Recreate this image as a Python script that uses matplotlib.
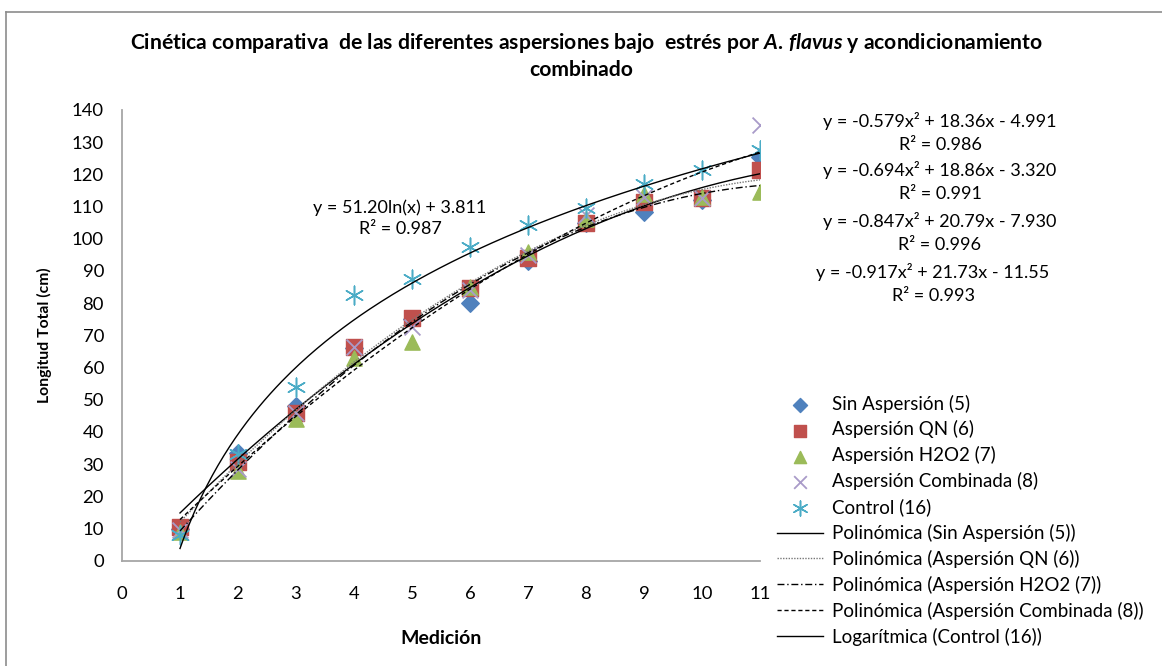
import numpy as np
import matplotlib.pyplot as plt
from matplotlib.lines import Line2D

plt.rcParams['font.family'] = ['Lato', 'DejaVu Sans']
plt.rcParams['mathtext.fontset'] = 'custom'
plt.rcParams['mathtext.it'] = 'Lato:italic:bold'
plt.rcParams['mathtext.rm'] = 'Lato:bold'

# mediciones (eje x) y longitud total por tratamiento
medicion = [1, 2, 3, 4, 5, 6, 7, 8, 9, 10, 11]
sin_asp = [10, 33.5, 48, 66, 75, 80, 93, 105, 108.4, 112, 125.5]
asp_qn = [10.6, 30.7, 46, 66.5, 75.5, 84.8, 94, 105, 111.5, 112.7, 121.4]
asp_h2o2 = [9, 28, 44, 63, 68, 85, 96, 106, 114, 113, 114.6]
asp_comb = [9.5, 28.5, 46, 66.5, 72.7, 84, 95, 107.5, 113, 112.7, 135.4]
control = [8, 33, 54, 82.5, 87.5, 97.5, 104.3, 109.6, 117, 121.4, 127.6]

# coeficientes de las lineas de tendencia (a, b, c) -> a*x^2 + b*x + c
poly_sin = [-0.694, 18.86, -3.320]
poly_qn = [-0.847, 20.79, -7.930]
poly_h2o2 = [-0.917, 21.73, -11.55]
poly_comb = [-0.579, 18.36, -4.991]
log_control = [51.20, 3.811]

r2_comb, r2_sin, r2_qn, r2_h2o2, r2_control = 0.986, 0.991, 0.996, 0.993, 0.987

fig = plt.figure(figsize=(11.62, 6.66), dpi=100)
ax = fig.add_axes([0.105, 0.158, 0.549, 0.677])

ax.scatter(medicion, sin_asp, marker='D', s=80, color='#4f81bd', zorder=3,
           label='Sin Aspersión (5)')
ax.scatter(medicion, asp_qn, marker='s', s=120, color='#c0504d', zorder=3,
           label='Aspersión QN (6)')
ax.scatter(medicion, asp_h2o2, marker='^', s=120, color='#9bbb59', zorder=3,
           label='Aspersión H2O2 (7)')
ax.scatter(medicion, asp_comb, marker='x', s=130, color='#a99bc9', linewidths=1.3,
           zorder=3, label='Aspersión Combinada (8)')
ax.scatter(medicion, control, marker=(6, 2, 0), s=180, color='#4bacc6', linewidths=1.1,
           zorder=3, label='Control (16)')

xs = np.linspace(1, 11, 200)
ax.plot(xs, np.polyval(poly_sin, xs), color='black', lw=1.0, ls='-', zorder=4,
        label='Polinómica (Sin Aspersión (5))')
ax.plot(xs, np.polyval(poly_qn, xs), color='#777777', lw=1.0, ls=(0, (1, 1)), zorder=4,
        label='Polinómica (Aspersión QN (6))')
ax.plot(xs, np.polyval(poly_h2o2, xs), color='black', lw=1.0, ls=(0, (5, 2, 1, 2)), zorder=4,
        label='Polinómica (Aspersión H2O2 (7))')
ax.plot(xs, np.polyval(poly_comb, xs), color='black', lw=1.0, ls=(0, (3, 2)), zorder=4,
        label='Polinómica (Aspersión Combinada (8))')
ax.plot(xs, log_control[0] * np.log(xs) + log_control[1], color='black', lw=1.0, zorder=4,
        label='Logarítmica (Control (16))')

ax.set_xlim(0, 11)
ax.set_ylim(0, 140)
ax.set_xticks(range(0, 12))
ax.set_yticks(range(0, 141, 10))
ax.tick_params(axis='both', length=0, labelsize=13.3, colors='black')
ax.tick_params(axis='y', pad=13)
ax.tick_params(axis='x', pad=18)
for side in ['top', 'right']:
    ax.spines[side].set_visible(False)
for side in ['left', 'bottom']:
    ax.spines[side].set_color('#a6a6a6')
    ax.spines[side].set_linewidth(1.3)

ax.set_xlabel('Medición', fontsize=14, fontweight='bold', labelpad=20)
ax.set_ylabel('Longitud Total (cm)', fontsize=11.3, fontweight='bold', labelpad=14)

fig.text(0.505, 0.935, r'Cinética comparativa  de las diferentes aspersiones bajo  estrés por $\mathit{A.\,flavus}$ y acondicionamiento',
         ha='center', va='center', fontsize=15.2, fontweight='bold')
fig.text(0.5, 0.895, 'combinado', ha='center', va='center', fontsize=15.2, fontweight='bold')

# ecuaciones de tendencia
eq_kw = dict(fontsize=13, ha='center', va='center', transform=fig.transFigure)
fig.text(400 / 1162, 1 - 208 / 666,
         'y = %.2fln(x) + %.3f' % tuple(log_control), **eq_kw)
fig.text(400 / 1162, 1 - 229 / 666, 'R² = %.3f' % r2_control, **eq_kw)

def poly_label(c):
    cc = '%.3f' % abs(c[2]) if abs(c[2]) < 10 else '%.2f' % abs(c[2])
    return 'y = %.3fx² + %.2fx - %s' % (c[0], c[1], cc)

right_eqs = [(poly_comb, r2_comb, 121, 940), (poly_sin, r2_sin, 170, 940),
             (poly_qn, r2_qn, 221, 940), (poly_h2o2, r2_h2o2, 272, 933)]
for c, r2, ypix, xpix in right_eqs:
    fig.text(xpix / 1162, 1 - ypix / 666, poly_label(c), **eq_kw)
    fig.text(xpix / 1162, 1 - (ypix + 24) / 666, 'R² = %.3f' % r2, **eq_kw)

fig.legend(loc='upper left', bbox_to_anchor=(769 / 1162, 1 - 387 / 666), frameon=False,
           fontsize=13.5, handlelength=2.5, handletextpad=0.45, labelspacing=0.42,
           borderaxespad=0, scatterpoints=1, markerscale=0.8)

# borde del area del grafico
fig.add_artist(Line2D([6 / 1162, 1], [1 - 12 / 666, 1 - 12 / 666], color='#8c8c8c', lw=1.2))
fig.add_artist(Line2D([6 / 1162, 6 / 1162], [0, 1 - 12 / 666], color='#8c8c8c', lw=1.2))

fig.savefig('out.png')
